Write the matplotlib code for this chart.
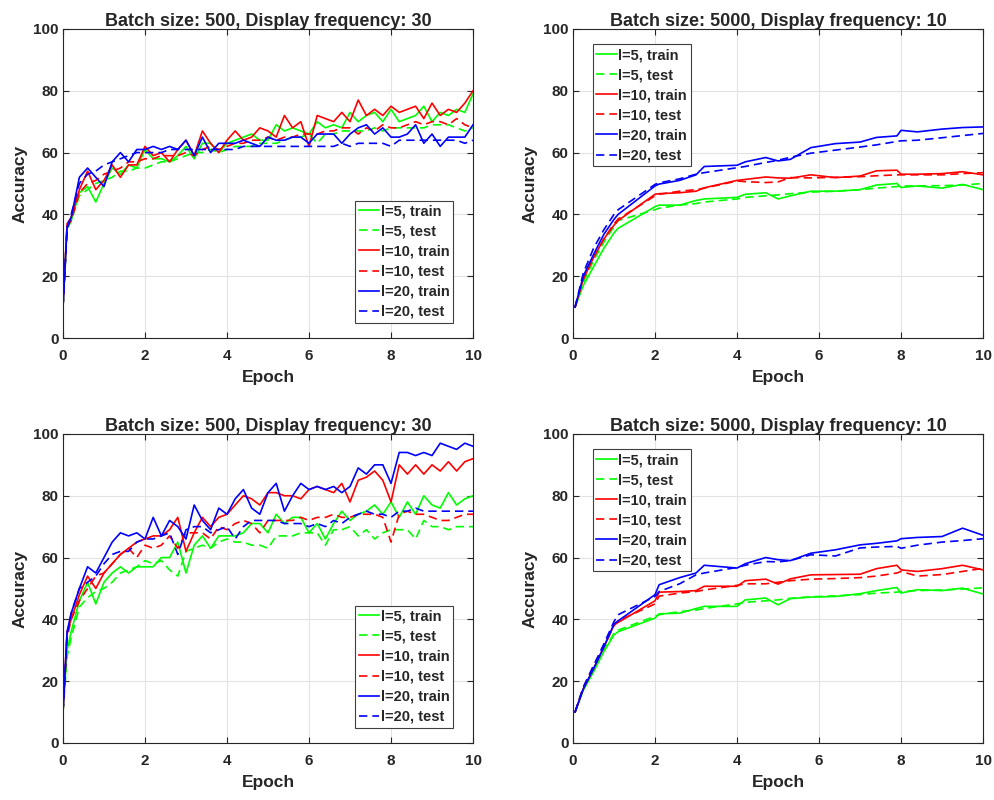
import matplotlib.pyplot as plt
import numpy as np

plt.rcParams['font.family'] = ['Liberation Sans', 'DejaVu Sans']
plt.rcParams['font.weight'] = 'bold'

# ---- batch size 500 (top-left / bottom-left): epochs
ep_small = [0.0, 0.1] + [round(0.2 * i, 1) for i in range(1, 51)]

# top-left
tl_l5_train = [10, 36, 38, 47, 49, 44, 50, 55, 53, 56, 55, 61, 58, 58, 57, 59, 62, 58, 63, 63,
               60, 63, 64, 65, 66, 64, 64, 69, 67, 68, 67, 66, 70, 68, 69, 68, 73, 70, 72, 73,
               70, 74, 70, 71, 72, 75, 70, 73, 72, 74, 73, 79]
tl_l5_test = [10, 35, 38, 46, 48, 50, 51, 52, 54, 54, 55, 55, 56, 57, 57, 58, 59, 60, 60, 61,
              60, 61, 62, 62, 62, 63, 63, 63, 64, 65, 65, 66, 63, 66, 66, 67, 67, 67, 67, 68,
              67, 68, 68, 68, 68, 68, 69, 69, 69, 68, 67, 68]
tl_l10_train = [10, 37, 39, 48, 54, 48, 51, 56, 52, 56, 56, 62, 59, 60, 57, 61, 64, 59, 67, 63,
                60, 64, 67, 64, 65, 68, 67, 65, 72, 68, 70, 62, 72, 71, 70, 73, 70, 77, 72, 74,
                72, 75, 73, 74, 75, 71, 76, 72, 74, 73, 76, 80]
tl_l10_test = [10, 36, 38, 47, 50, 51, 53, 54, 55, 57, 57, 58, 58, 59, 59, 59, 60, 59, 61, 62,
               61, 62, 63, 63, 64, 64, 65, 64, 65, 65, 66, 66, 66, 67, 67, 68, 68, 66, 68, 67,
               69, 68, 68, 69, 70, 69, 70, 70, 69, 71, 69, 68]
tl_l20_train = [10, 36, 39, 52, 55, 52, 49, 57, 60, 57, 61, 61, 62, 61, 62, 61, 64, 59, 65, 60,
                63, 63, 63, 64, 63, 62, 65, 64, 64, 65, 65, 63, 66, 66, 66, 63, 66, 68, 69, 66,
                68, 65, 65, 66, 69, 63, 66, 62, 65, 65, 65, 69]
tl_l20_test = [10, 35, 40, 50, 53, 54, 56, 57, 58, 59, 60, 60, 60, 60, 61, 61, 61, 61, 61, 61,
               61, 61, 61, 62, 62, 62, 62, 62, 62, 62, 62, 62, 62, 62, 62, 63, 62, 63, 63, 63,
               63, 62, 64, 64, 64, 64, 64, 64, 64, 64, 63, 64]

# bottom-left
bl_l5_train = [10, 30, 36, 46, 52, 45, 52, 55, 57, 55, 57, 57, 57, 60, 60, 65, 55, 64, 67, 63,
               67, 67, 67, 68, 71, 71, 68, 74, 71, 73, 73, 68, 71, 66, 71, 75, 72, 74, 75, 77,
               74, 78, 73, 78, 74, 80, 77, 76, 81, 77, 79, 80]
bl_l5_test = [10, 28, 34, 44, 47, 49, 50, 52, 55, 56, 57, 59, 58, 59, 56, 54, 62, 63, 64, 63,
              65, 66, 65, 65, 64, 64, 63, 67, 67, 67, 68, 68, 68, 64, 69, 69, 70, 67, 69, 66,
              68, 69, 69, 69, 66, 72, 70, 70, 69, 70, 70, 70]
bl_l10_train = [10, 36, 40, 48, 54, 50, 55, 58, 61, 63, 65, 66, 67, 67, 69, 73, 62, 68, 73, 70,
                73, 74, 77, 80, 79, 77, 81, 81, 80, 80, 79, 82, 83, 82, 81, 84, 78, 85, 86, 88,
                85, 78, 90, 87, 90, 87, 90, 88, 91, 88, 91, 92]
bl_l10_test = [10, 34, 40, 46, 50, 54, 55, 58, 61, 63, 60, 64, 63, 64, 67, 63, 68, 68, 68, 66,
               70, 69, 71, 72, 71, 68, 72, 72, 72, 72, 73, 72, 73, 73, 74, 73, 73, 74, 74, 74,
               73, 65, 74, 75, 74, 74, 73, 72, 72, 73, 74, 74]
bl_l20_train = [10, 36, 42, 50, 57, 55, 60, 65, 68, 67, 68, 66, 73, 67, 72, 70, 66, 77, 72, 69,
                76, 74, 79, 82, 76, 74, 81, 84, 75, 80, 84, 82, 83, 82, 83, 81, 83, 89, 87, 90,
                90, 84, 94, 94, 93, 94, 93, 97, 96, 95, 97, 96]
bl_l20_test = [10, 35, 42, 50, 52, 54, 58, 61, 62, 62, 65, 66, 66, 67, 68, 61, 69, 70, 70, 68,
               69, 70, 66, 70, 72, 72, 72, 72, 71, 71, 71, 70, 71, 70, 72, 71, 73, 74, 75, 74,
               74, 73, 75, 75, 76, 75, 75, 75, 75, 75, 75, 75]

# ---- batch size 5000 (top-right / bottom-right): epochs
ep_large = [0.05, 0.25, 0.5, 0.75, 1.0, 1.1, 2.0, 2.1, 2.6, 3.0, 3.2, 4.0, 4.2, 4.7, 5.0, 5.3,
            5.8, 6.4, 7.0, 7.4, 7.9, 8.0, 8.4, 9.0, 9.5, 10.0]

tr_l5_train = [10, 17, 23, 29, 34, 35.5, 42.5, 43, 43, 44.5, 45, 45.5, 46.5, 47, 45, 46,
               47.5, 47.5, 48, 49.5, 50, 48.7, 49.2, 48.5, 49.7, 48]
tr_l5_test = [10, 18, 25, 31, 36, 38, 41.5, 42, 43, 43.5, 44, 45, 45.5, 46, 46.3, 46.7,
              47.2, 47.5, 48, 48.5, 49, 49.2, 49.2, 49.3, 49.5, 50]
tr_l10_train = [10, 19, 26, 32, 36.5, 38, 46.5, 46.7, 47, 47.5, 48.6, 51, 51.3, 52.1, 51.8, 51.7,
                52.8, 51.9, 52.4, 54.1, 54.3, 53, 53, 53.2, 53.8, 52.8]
tr_l10_test = [10, 19, 26, 32, 37, 38.5, 46, 46.5, 47.5, 48, 48.5, 50.8, 50.6, 50.3, 50.5, 51.9,
               51.8, 52, 52.2, 52.5, 52.8, 52.8, 52.8, 52.8, 53.2, 53.5]
tr_l20_train = [10, 20, 27, 33.5, 38.4, 40, 49.2, 49.8, 51, 52.8, 55.5, 55.9, 57, 58.4, 57.3, 57.8,
                61.6, 62.9, 63.4, 64.9, 65.4, 67.2, 66.7, 67.6, 68.1, 68.3]
tr_l20_test = [10, 21, 29, 35, 40, 41.5, 49.7, 50.2, 51.5, 53, 53.5, 55.1, 55.5, 56.8, 57.5, 58.5,
               59.8, 60.8, 61.8, 62.5, 63.6, 63.8, 64, 64.8, 65.5, 66.2]

br_l5_train = [10, 17, 23, 29.5, 35, 36, 40.4, 41.8, 42, 43.5, 44.2, 44.2, 46.3, 46.9, 44.7, 46.7,
               47.2, 47.4, 48.3, 49.3, 50.3, 48.5, 49.6, 49.3, 50.1, 48.2]
br_l5_test = [10, 18, 24, 30, 35.5, 36.5, 41, 41.5, 42.5, 43, 43.5, 45, 45.5, 46, 46.3, 46.8,
              47.3, 47.6, 48, 48.5, 48.8, 49, 49.3, 49.5, 49.8, 50.2]
br_l10_train = [10, 17.5, 24, 31, 38.2, 39, 46, 48.8, 49, 49.3, 50.7, 50.7, 52.5, 53, 51.4, 53.1,
                54.4, 54.5, 54.6, 56.4, 57.5, 56, 55.5, 56.4, 57.5, 56]
br_l10_test = [10, 18, 25, 31, 38, 39.5, 45, 47.5, 48.5, 49, 49.5, 51, 51.5, 51.5, 52, 52.5,
               53, 53.2, 53.5, 54, 55, 55.5, 54, 54.5, 55.5, 56.5]
br_l20_train = [10, 17.5, 24, 31, 38.5, 39.5, 48, 51.2, 53.5, 55, 57.5, 56.6, 58, 60, 59.3, 59,
                61.4, 62.5, 64.1, 64.6, 65.4, 66.1, 66.5, 66.8, 69.5, 67.2]
br_l20_test = [10, 18, 25, 32, 39.3, 41.5, 47.4, 49, 51.5, 54.4, 55, 56.8, 57.5, 58.7, 58.6, 59,
               60.9, 60.5, 63.1, 63.4, 63.6, 63, 64, 65, 65.5, 66.1]

labels = ['l=5, train', 'l=5, test', 'l=10, train', 'l=10, test', 'l=20, train', 'l=20, test']
colors = ['#00ff00', '#00ff00', '#ff0000', '#ff0000', '#0000ff', '#0000ff']
styles = ['-', '--', '-', '--', '-', '--']

panels = [
    ('Batch size: 500, Display frequency: 30', ep_small,
     [tl_l5_train, tl_l5_test, tl_l10_train, tl_l10_test, tl_l20_train, tl_l20_test], 'lower right'),
    ('Batch size: 5000, Display frequency: 10', ep_large,
     [tr_l5_train, tr_l5_test, tr_l10_train, tr_l10_test, tr_l20_train, tr_l20_test], 'upper left'),
    ('Batch size: 500, Display frequency: 30', ep_small,
     [bl_l5_train, bl_l5_test, bl_l10_train, bl_l10_test, bl_l20_train, bl_l20_test], 'lower right'),
    ('Batch size: 5000, Display frequency: 10', ep_large,
     [br_l5_train, br_l5_test, br_l10_train, br_l10_test, br_l20_train, br_l20_test], 'upper left'),
]

# axes rectangles (fig fraction)
rects = [[0.0633, 0.5775, 0.4121, 0.3863], [0.5759, 0.5775, 0.4121, 0.3863],
         [0.0633, 0.0713, 0.4121, 0.3863], [0.5759, 0.0713, 0.4121, 0.3863]]
anchors = {'lower right': (0.951, 0.05), 'upper left': (0.048, 0.95)}

fig = plt.figure(figsize=(9.95, 8), dpi=100)
txt = '#262626'

for rect, (title, ep, series, loc) in zip(rects, panels):
    ax = fig.add_axes(rect)
    for ys, lab, c, ls in zip(series, labels, colors, styles):
        ax.plot(ep, ys, color=c, linestyle=ls, linewidth=1.2, label=lab,
                dashes=(5, 3) if ls == '--' else (None, None))
    ax.set_xlim(0, 10)
    ax.set_ylim(0, 100)
    ax.set_xticks([0, 2, 4, 6, 8, 10])
    ax.set_yticks([0, 20, 40, 60, 80, 100])
    ax.grid(True, color='#e3e3e3', linewidth=0.8)
    ax.set_axisbelow(True)
    ax.tick_params(direction='in', top=True, right=True, length=4, width=0.8,
                   labelsize=11, colors=txt, pad=3)
    ax.tick_params(axis='x', pad=8)
    for lab in ax.get_xticklabels() + ax.get_yticklabels():
        lab.set_fontweight('bold')
    for sp in ax.spines.values():
        sp.set_color(txt)
        sp.set_linewidth(0.8)
    ax.set_title(title, fontsize=13, fontweight='bold', color=txt, pad=2)
    ax.set_xlabel('Epoch', fontsize=12.5, fontweight='bold', color=txt, labelpad=5)
    ax.set_ylabel('Accuracy', fontsize=12.5, fontweight='bold', color=txt, labelpad=4)
    leg = ax.legend(loc=loc, bbox_to_anchor=anchors[loc], borderaxespad=0,
                    prop={'size': 10.5, 'weight': 'bold'}, fancybox=False,
                    framealpha=1, edgecolor='#404040', labelspacing=0.42,
                    handlelength=1.4, handletextpad=0.1, borderpad=0.25)
    leg.get_frame().set_linewidth(0.8)
    for t in leg.get_texts():
        t.set_color(txt)

fig.savefig('out.png', dpi=100)
